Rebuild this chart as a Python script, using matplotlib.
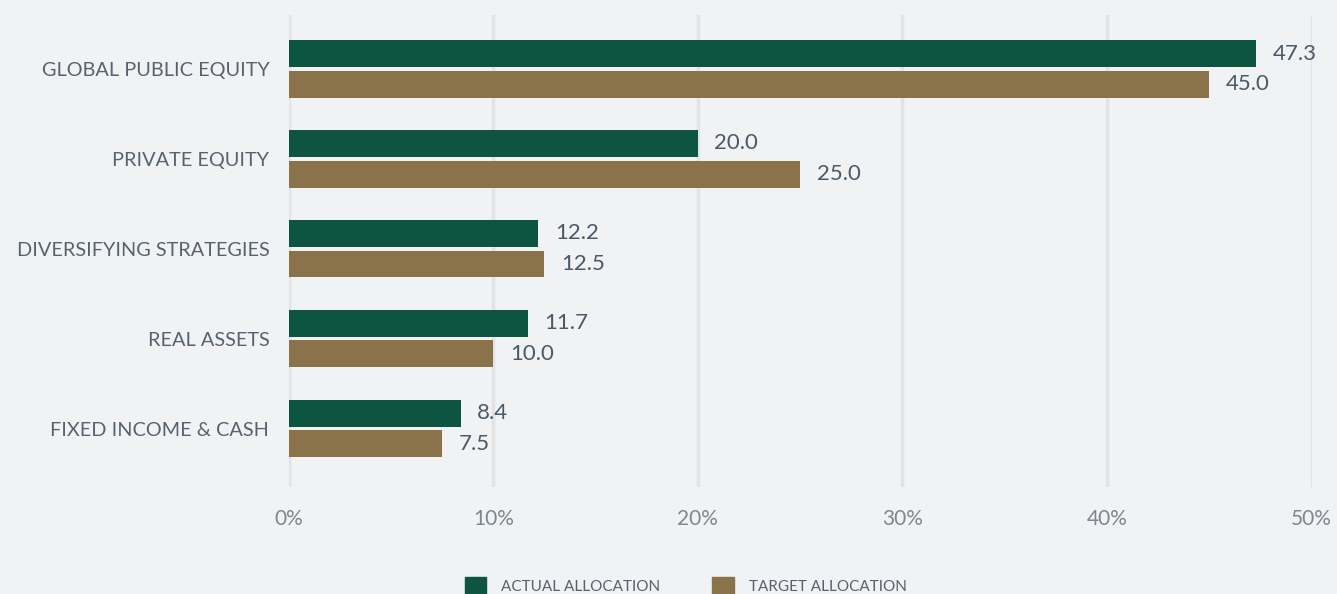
import matplotlib
matplotlib.use('Agg')
import matplotlib.pyplot as plt
import matplotlib.patches as mpatches
import numpy as np

categories = ['GLOBAL PUBLIC EQUITY', 'PRIVATE EQUITY', 'DIVERSIFYING STRATEGIES',
              'REAL ASSETS', 'FIXED INCOME & CASH']
actual = [47.3, 20.0, 12.2, 11.7, 8.4]
target = [45.0, 25.0, 12.5, 10.0, 7.5]
xticks = [0, 10, 20, 30, 40, 50]
series_names = ['ACTUAL ALLOCATION', 'TARGET ALLOCATION']

bg = '#f1f2f4'
green = '#0d5540'
brown = '#8a734b'
label_col = '#56636f'
value_col = '#4a5967'

plt.rcParams['font.family'] = ['Lato', 'DejaVu Sans']

fig = plt.figure(figsize=(13.37, 5.94), dpi=100, facecolor=bg)
ax = fig.add_axes([0.216, 0.180, 0.765, 0.795], facecolor=bg)

y = np.arange(len(categories))
h = 0.30
off = 0.17
ax.barh(y - off, actual, height=h, color=green, zorder=3)
ax.barh(y + off, target, height=h, color=brown, zorder=3)

for i in range(len(categories)):
    ax.text(actual[i] + 0.8, y[i] - off, f'{actual[i]:.1f}', va='center', ha='left',
            fontsize=16, color=value_col, zorder=4)
    ax.text(target[i] + 0.8, y[i] + off, f'{target[i]:.1f}', va='center', ha='left',
            fontsize=16, color=value_col, zorder=4)

ax.set_xlim(0, 50)
ax.set_ylim(4.65, -0.6)
ax.set_yticks(y)
ax.set_yticklabels(categories, fontsize=14.3, color=label_col)
ax.set_xticks(xticks)
ax.set_xticklabels([f'{t}%' for t in xticks], fontsize=15, color='#7d8790')
ax.tick_params(axis='both', length=0)
ax.tick_params(axis='x', pad=16)
ax.tick_params(axis='y', pad=14)
ax.grid(axis='x', color='#e2e3e5', linewidth=2.5, zorder=0)
for s in ax.spines.values():
    s.set_visible(False)

handles = [mpatches.Patch(color=green, label=series_names[0]),
           mpatches.Patch(color=brown, label=series_names[1])]
leg = fig.legend(handles=handles, loc='lower center', bbox_to_anchor=(0.513, -0.025),
                 ncol=2, frameon=False, fontsize=11, handlelength=1.4, handleheight=1.4,
                 columnspacing=3.4, handletextpad=1.0)
for t in leg.get_texts():
    t.set_color(label_col)

fig.savefig('out.png', dpi=100, facecolor=bg)
